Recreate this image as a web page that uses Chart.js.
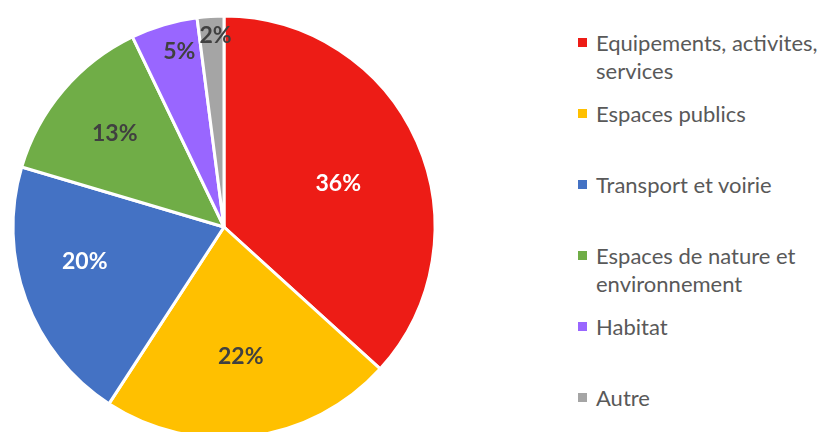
<!DOCTYPE html>
<html lang="fr">
<head>
<meta charset="utf-8">
<title>Répartition par thème</title>
<script src="https://cdn.jsdelivr.net/npm/chart.js@4.4.0/dist/chart.umd.min.js"></script>
<style>
  html, body { margin: 0; padding: 0; background: #fff; }
  #cadre { position: relative; width: 823px; height: 432px; overflow: hidden; }
  #graphique { position: absolute; left: 0; top: 0; }
  #legende {
    position: absolute; left: 578px; top: 29px; margin: 0; padding: 0; list-style: none;
    font-family: Lato, "Open Sans", sans-serif; font-size: 22px; color: #595959; line-height: 28px;
  }
  #legende li { position: relative; height: 71px; padding-left: 18px; white-space: nowrap; }
  #legende .carre { position: absolute; left: 0; top: 9px; width: 9px; height: 9px; }
</style>
</head>
<body>
<div id="cadre">
  <canvas id="graphique" width="444" height="454"></canvas>
  <ul id="legende"></ul>
</div>
<script>
// Données du camembert
const categories = [
  ['Equipements, activites,', 'services'],
  ['Espaces publics'],
  ['Transport et voirie'],
  ['Espaces de nature et', 'environnement'],
  ['Habitat'],
  ['Autre']
];
const pourcentages = [36, 22, 20, 13, 5, 2];
const couleurs = ['#ED1C16', '#FFC000', '#4472C4', '#70AD47', '#9966FF', '#A5A5A5'];
const couleursTexte = ['#ffffff', '#404040', '#ffffff', '#404040', '#404040', '#404040'];

// Plugin pour écrire les pourcentages dans chaque part
const etiquettesPlugin = {
  id: 'etiquettes',
  afterDatasetsDraw(chart, args, opts) {
    const ctx = chart.ctx;
    const meta = chart.getDatasetMeta(0);
    ctx.save();
    ctx.font = 'bold 23px Lato, "Open Sans", sans-serif';
    ctx.textAlign = 'center';
    ctx.textBaseline = 'middle';
    meta.data.forEach((arc, i) => {
      const angle = (arc.startAngle + arc.endAngle) / 2 + opts.decalages[i];
      const r = arc.outerRadius * opts.distances[i];
      ctx.fillStyle = couleursTexte[i];
      ctx.fillText(chart.data.datasets[0].data[i] + '%', arc.x + Math.cos(angle) * r, arc.y + Math.sin(angle) * r);
    });
    ctx.restore();
  }
};

const ctx = document.getElementById('graphique').getContext('2d');
const graphique = new Chart(ctx, {
  type: 'pie',
  data: {
    labels: categories,
    datasets: [{
      data: pourcentages,
      backgroundColor: couleurs,
      borderColor: '#ffffff',
      borderWidth: 3
    }]
  },
  options: {
    responsive: false,
    animation: false,
    // le disque déborde un peu en bas, comme dans le rapport
    layout: { padding: { left: 11.5, right: 7.5, top: 14.5, bottom: 14.5 } },
    plugins: {
      legend: { display: false },
      tooltip: { enabled: false },
      etiquettes: {
        distances: [0.58, 0.62, 0.68, 0.68, 0.86, 0.91],
        decalages: [0.05, 0, 0.11, 0, 0.04, 0.02]
      }
    }
  },
  plugins: [etiquettesPlugin]
});

// Légende HTML à droite
const legende = document.getElementById('legende');
graphique.data.labels.forEach((lignes, i) => {
  const li = document.createElement('li');
  li.innerHTML = `<span class="carre" style="background:${couleurs[i]}"></span>${lignes.join('<br>')}`;
  legende.appendChild(li);
});
</script>
</body>
</html>
